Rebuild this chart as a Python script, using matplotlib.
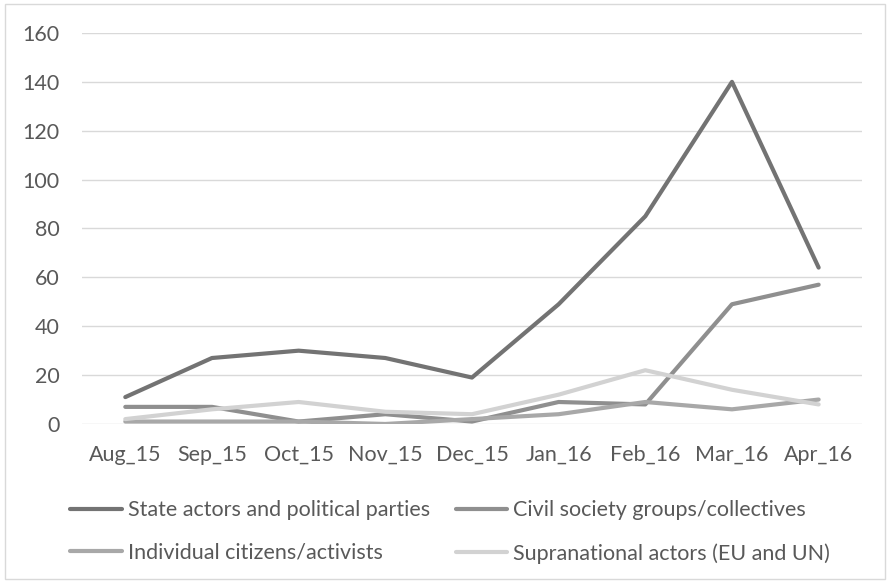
import numpy as np
import matplotlib.pyplot as plt
from matplotlib.patches import Rectangle

months = ['Aug_15', 'Sep_15', 'Oct_15', 'Nov_15', 'Dec_15',
          'Jan_16', 'Feb_16', 'Mar_16', 'Apr_16']

state_actors = [11, 27, 30, 27, 19, 49, 85, 140, 64]
civil_society = [7, 7, 1, 4, 1, 9, 8, 49, 57]
individuals = [1, 1, 1, 0, 2, 4, 9, 6, 10]
supranational = [2, 6, 9, 5, 4, 12, 22, 14, 8]

series = [
    ('State actors and political parties', state_actors, '#737373'),
    ('Civil society groups/collectives', civil_society, '#8f8f8f'),
    ('Individual citizens/activists', individuals, '#a8a8a8'),
    ('Supranational actors (EU and UN)', supranational, '#d2d2d2'),
]

plt.rcParams['font.family'] = ['Lato', 'DejaVu Sans']
text_color = '#595959'
fs = 15.5

fig = plt.figure(figsize=(8.89, 5.84), dpi=100)
ax = fig.add_axes([0.0922, 0.274, 0.8774, 0.6695])

x = np.arange(len(months))
lines = {}
for name, values, color in series:
    lines[name], = ax.plot(x, values, color=color, linewidth=3.0, label=name,
                           solid_capstyle='round', solid_joinstyle='round')

ax.set_xlim(-0.5, len(months) - 0.5)
ax.set_ylim(0, 160)
ax.set_yticks(range(0, 161, 20))
ax.set_xticks(x)
ax.set_xticklabels(months)
ax.yaxis.grid(True, color='#d9d9d9', linewidth=1)
ax.set_axisbelow(True)
for side in ['top', 'right', 'left', 'bottom']:
    ax.spines[side].set_visible(False)
ax.tick_params(axis='both', length=0, labelsize=fs, colors=text_color)
ax.tick_params(axis='x', pad=15)
ax.tick_params(axis='y', pad=16)

# legend fills column by column, so order it to read row-wise like the original
order = [0, 2, 1, 3]
handles = [lines[series[i][0]] for i in order]
labels = [series[i][0] for i in order]
leg = fig.legend(handles, labels, ncol=2, loc='upper left',
                 bbox_to_anchor=(0.069, 0.158), frameon=False,
                 fontsize=fs, handlelength=2.4, handletextpad=0.28,
                 columnspacing=1.2, labelspacing=1.05, borderaxespad=0)
for t in leg.get_texts():
    t.set_color(text_color)

fig.patches.append(Rectangle((0.006, 0.008), 0.99, 0.986, transform=fig.transFigure,
                             fill=False, edgecolor='#d9d9d9', linewidth=1))

fig.savefig('out.png', dpi=100)
